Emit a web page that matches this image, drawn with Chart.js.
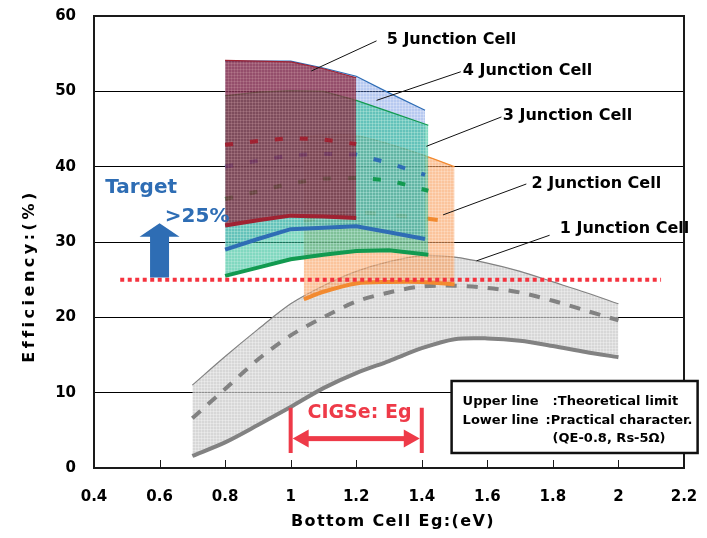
<!DOCTYPE html>
<html>
<head>
<meta charset="utf-8">
<script src="https://cdn.jsdelivr.net/npm/chart.js@4.4.1/dist/chart.umd.min.js"></script>
<style>
  html, body { margin: 0; padding: 0; background: #fff; }
  #wrap { width: 707px; height: 538px; }
</style>
</head>
<body>
<div id="wrap"><canvas id="chart"></canvas></div>
<script>
// bottom cell band gap (eV) and efficiency (%)
const eg1 = [0.7, 0.8, 0.9, 1.0, 1.1, 1.2, 1.3, 1.4, 1.5, 1.6, 1.7, 1.8, 1.9, 2.0];
const j1Upper = [11.0, 14.8, 18.4, 21.8, 24.2, 26.1, 27.4, 28.2, 28.0, 27.2, 26.1, 24.7, 23.3, 21.8];
const j1Mid = [6.6, 10.5, 14.4, 17.6, 20.0, 22.1, 23.3, 24.1, 24.2, 23.9, 23.3, 22.2, 20.9, 19.6];
const j1Lower = [1.6, 3.4, 5.7, 8.1, 10.6, 12.6, 14.2, 15.9, 17.1, 17.2, 16.9, 16.2, 15.4, 14.7];

const eg2 = [1.04, 1.1, 1.2, 1.3, 1.4, 1.5];
const j2Upper = [44.0, 44.2, 44.1, 43.0, 41.6, 40.0];
const j2Mid = [32.8, 33.3, 33.9, 33.6, 33.2, 32.6];
const j2Lower = [22.4, 23.4, 24.5, 24.7, 24.7, 24.4];

const eg3 = [0.8, 0.9, 1.0, 1.1, 1.2, 1.3, 1.42];
const j3Upper = [49.4, 49.9, 50.1, 50.0, 48.8, 47.3, 45.5];
const j3Mid = [35.7, 36.7, 37.8, 38.4, 38.5, 38.2, 36.8];
const j3Lower = [25.5, 26.6, 27.7, 28.3, 28.8, 28.9, 28.3];

const eg4 = [0.8, 0.9, 1.0, 1.1, 1.2, 1.3, 1.41];
const j4Upper = [54.0, 54.0, 54.0, 53.1, 52.0, 49.8, 47.5];
const j4Mid = [40.0, 40.8, 41.5, 41.7, 41.6, 40.5, 38.9];
const j4Lower = [29.0, 30.4, 31.7, 31.9, 32.1, 31.3, 30.4];

const eg5 = [0.8, 0.9, 1.0, 1.1, 1.2];
const j5Upper = [54.1, 54.0, 53.9, 53.0, 51.8];
const j5Mid = [42.9, 43.4, 43.8, 43.6, 43.0];
const j5Lower = [32.2, 32.9, 33.5, 33.4, 33.2];

const targetEg = [0.48, 2.13];
const targetEff = [25, 25];

const cellNames = ['1 Junction Cell', '2 Junction Cell', '3 Junction Cell', '4 Junction Cell', '5 Junction Cell'];

const pts = (xs, ys) => xs.map((x, i) => ({ x: x, y: ys[i] }));

// fine grid texture like the original fills
function hatch(base, line) {
  const c = document.createElement('canvas');
  c.width = 3; c.height = 3;
  const g = c.getContext('2d');
  g.fillStyle = base; g.fillRect(0, 0, 3, 3);
  g.fillStyle = line; g.fillRect(0, 0, 3, 1); g.fillRect(0, 0, 1, 3);
  return g.createPattern(c, 'repeat');
}

// lower order = drawn on top, so layer n sits above layer n-1
function group(xs, up, mid, low, color, fill, dash, tension, fillLayer, lineLayer) {
  return [
    { data: pts(xs, up), borderColor: color, borderWidth: 1.2, fill: '+1', backgroundColor: fill, tension: tension, order: 100 - fillLayer * 3 },
    { data: pts(xs, low), borderColor: color, borderWidth: 4, fill: false, tension: tension, order: 99 - lineLayer * 3 },
    { data: pts(xs, mid), borderColor: color, borderWidth: 4, borderDash: dash, fill: false, tension: tension, order: 98 - lineLayer * 3 }
  ];
}

const datasets = [].concat(
  group(eg1, j1Upper, j1Mid, j1Lower, '#828282', hatch('rgba(200,200,200,0.72)', 'rgba(255,255,255,0.3)'), [11, 10], 0.3, 0, 0),
  group(eg2, j2Upper, j2Mid, j2Lower, '#f28a30', hatch('rgba(248,160,95,0.62)', 'rgba(255,255,255,0.2)'), [11, 20], 0.3, 1, 1),
  group(eg4, j4Upper, j4Mid, j4Lower, '#2f6db5', hatch('rgba(95,135,222,0.45)', 'rgba(255,255,255,0.25)'), [8, 17], 0, 2, 4),
  group(eg3, j3Upper, j3Mid, j3Lower, '#129a50', hatch('rgba(45,190,150,0.6)', 'rgba(255,255,255,0.18)'), [8, 17], 0, 3, 3),
  group(eg5, j5Upper, j5Mid, j5Lower, '#a02232', hatch('rgba(135,30,55,0.72)', 'rgba(255,255,255,0.1)'), [8, 17], 0, 5, 5),
  [{ data: pts(targetEg, targetEff), borderColor: '#f5333f', borderWidth: 4, borderDash: [4, 3.5], fill: false, order: 0 }]
);
datasets.forEach(d => { d.pointRadius = 0; });

const labelFont = 'bold 16px "DejaVu Sans"';

const overlay = {
  id: 'overlay',
  afterDraw(chart) {
    const { ctx, chartArea: a, scales } = chart;
    const X = v => scales.x.getPixelForValue(v);
    const Y = v => scales.y.getPixelForValue(v);
    ctx.save();

    // inward x ticks and frame
    ctx.strokeStyle = '#1a1a1a';
    ctx.lineWidth = 1;
    scales.x.ticks.forEach(t => {
      const px = Math.round(X(t.value)) + 0.5;
      ctx.beginPath(); ctx.moveTo(px, a.bottom); ctx.lineTo(px, a.bottom - 8); ctx.stroke();
    });
    ctx.lineWidth = 2;
    ctx.strokeRect(a.left, a.top, a.width, a.height);

    // junction labels with leader lines
    const spots = [
      { tx: 1.821, ty: 31.7, fx: 1.79, fy: 30.9, lx: 1.567, ly: 27.5 },
      { tx: 1.735, ty: 37.7, fx: 1.719, fy: 37.7, lx: 1.465, ly: 33.6 },
      { tx: 1.647, ty: 46.7, fx: 1.643, fy: 46.6, lx: 1.414, ly: 42.7 },
      { tx: 1.525, ty: 52.7, fx: 1.519, fy: 52.6, lx: 1.262, ly: 48.8 },
      { tx: 1.293, ty: 56.8, fx: 1.262, fy: 56.7, lx: 1.063, ly: 52.7 }
    ];
    ctx.strokeStyle = '#111';
    ctx.lineWidth = 1;
    ctx.fillStyle = '#000';
    ctx.font = labelFont;
    ctx.textBaseline = 'middle';
    ctx.textAlign = 'left';
    spots.forEach((s, i) => {
      ctx.beginPath(); ctx.moveTo(X(s.fx), Y(s.fy)); ctx.lineTo(X(s.lx), Y(s.ly)); ctx.stroke();
      ctx.fillText(cellNames[i], X(s.tx), Y(s.ty));
    });

    // target arrow
    const bx = X(0.6);
    ctx.fillStyle = '#2e6db4';
    ctx.beginPath();
    ctx.moveTo(bx, Y(32.5));
    ctx.lineTo(bx + 20, Y(30.7));
    ctx.lineTo(bx + 9.5, Y(30.7));
    ctx.lineTo(bx + 9.5, Y(25.3));
    ctx.lineTo(bx - 9.5, Y(25.3));
    ctx.lineTo(bx - 9.5, Y(30.7));
    ctx.lineTo(bx - 20, Y(30.7));
    ctx.closePath();
    ctx.fill();
    ctx.font = 'bold 20px "DejaVu Sans"';
    ctx.textBaseline = 'alphabetic';
    ctx.fillText('Target', X(0.434), Y(36.5));
    ctx.fillText('>25%', X(0.616), Y(32.7));

    // CIGSe band gap range
    const red = '#ee3a48';
    const xa = X(1.0), xb = X(1.4), ay = Y(3.9);
    ctx.strokeStyle = red; ctx.fillStyle = red; ctx.lineWidth = 4;
    ctx.beginPath();
    ctx.moveTo(xa, Y(8)); ctx.lineTo(xa, Y(2));
    ctx.moveTo(xb, Y(8)); ctx.lineTo(xb, Y(2));
    ctx.stroke();
    ctx.fillRect(xa + 14, ay - 2.5, xb - xa - 28, 5);
    ctx.beginPath();
    ctx.moveTo(xa + 2, ay); ctx.lineTo(xa + 18, ay - 9); ctx.lineTo(xa + 18, ay + 9); ctx.closePath();
    ctx.moveTo(xb - 2, ay); ctx.lineTo(xb - 18, ay - 9); ctx.lineTo(xb - 18, ay + 9); ctx.closePath();
    ctx.fill();
    ctx.font = 'bold 19px "DejaVu Sans"';
    ctx.textAlign = 'center';
    ctx.textBaseline = 'middle';
    ctx.fillText('CIGSe: Eg', X(1.21), Y(7.3));

    // note box
    const nx = X(1.491), ny = Y(11.55);
    ctx.fillStyle = '#fff';
    ctx.fillRect(nx, ny, 246, 72);
    ctx.strokeStyle = '#111'; ctx.lineWidth = 2.5;
    ctx.strokeRect(nx, ny, 246, 72);
    ctx.fillStyle = '#000';
    ctx.font = 'bold 13px "DejaVu Sans"';
    ctx.textAlign = 'left';
    ctx.textBaseline = 'alphabetic';
    ctx.fillText('Upper line', nx + 11, ny + 24);
    ctx.fillText(':Theoretical limit', nx + 101, ny + 24);
    ctx.fillText('Lower line', nx + 11, ny + 43);
    ctx.fillText(':Practical character.', nx + 94, ny + 43);
    ctx.fillText('(QE-0.8, Rs-5\u03A9)', nx + 101, ny + 61);

    // axis titles
    ctx.font = 'bold 16px "DejaVu Sans"';
    ctx.textAlign = 'center';
    ctx.textBaseline = 'middle';
    ctx.letterSpacing = '1.4px';
    ctx.fillText('Bottom Cell Eg:(eV)', 393, 522);
    ctx.letterSpacing = '3.5px';
    ctx.translate(30, 276);
    ctx.rotate(-Math.PI / 2);
    ctx.fillText('Efficiency:(%)', 0, 0);
    ctx.restore();
  }
};

new Chart(document.getElementById('chart'), {
  type: 'line',
  data: { datasets: datasets },
  options: {
    responsive: true,
    maintainAspectRatio: false,
    animation: false,
    layout: { padding: { top: 16, right: 23, left: 0, bottom: 0 } },
    plugins: { legend: { display: false }, tooltip: { enabled: false } },
    scales: {
      x: {
        type: 'linear',
        min: 0.4,
        max: 2.2,
        afterFit: s => { s.height = 70; s.paddingLeft = 0; s.paddingRight = 0; },
        grid: { display: false, drawTicks: false },
        border: { display: false },
        ticks: {
          stepSize: 0.2,
          padding: 20,
          color: '#000',
          font: { family: 'DejaVu Sans', size: 15, weight: 'bold' },
          callback: v => String(+v.toFixed(1))
        }
      },
      y: {
        min: 0,
        max: 60,
        afterFit: s => { s.width = 94; s.paddingTop = 0; s.paddingBottom = 0; },
        grid: { color: '#000', lineWidth: 1, drawTicks: false },
        border: { display: false },
        ticks: {
          stepSize: 10,
          padding: 18,
          color: '#000',
          font: { family: 'DejaVu Sans', size: 15, weight: 'bold' }
        }
      }
    }
  },
  plugins: [overlay]
});
</script>
</body>
</html>
